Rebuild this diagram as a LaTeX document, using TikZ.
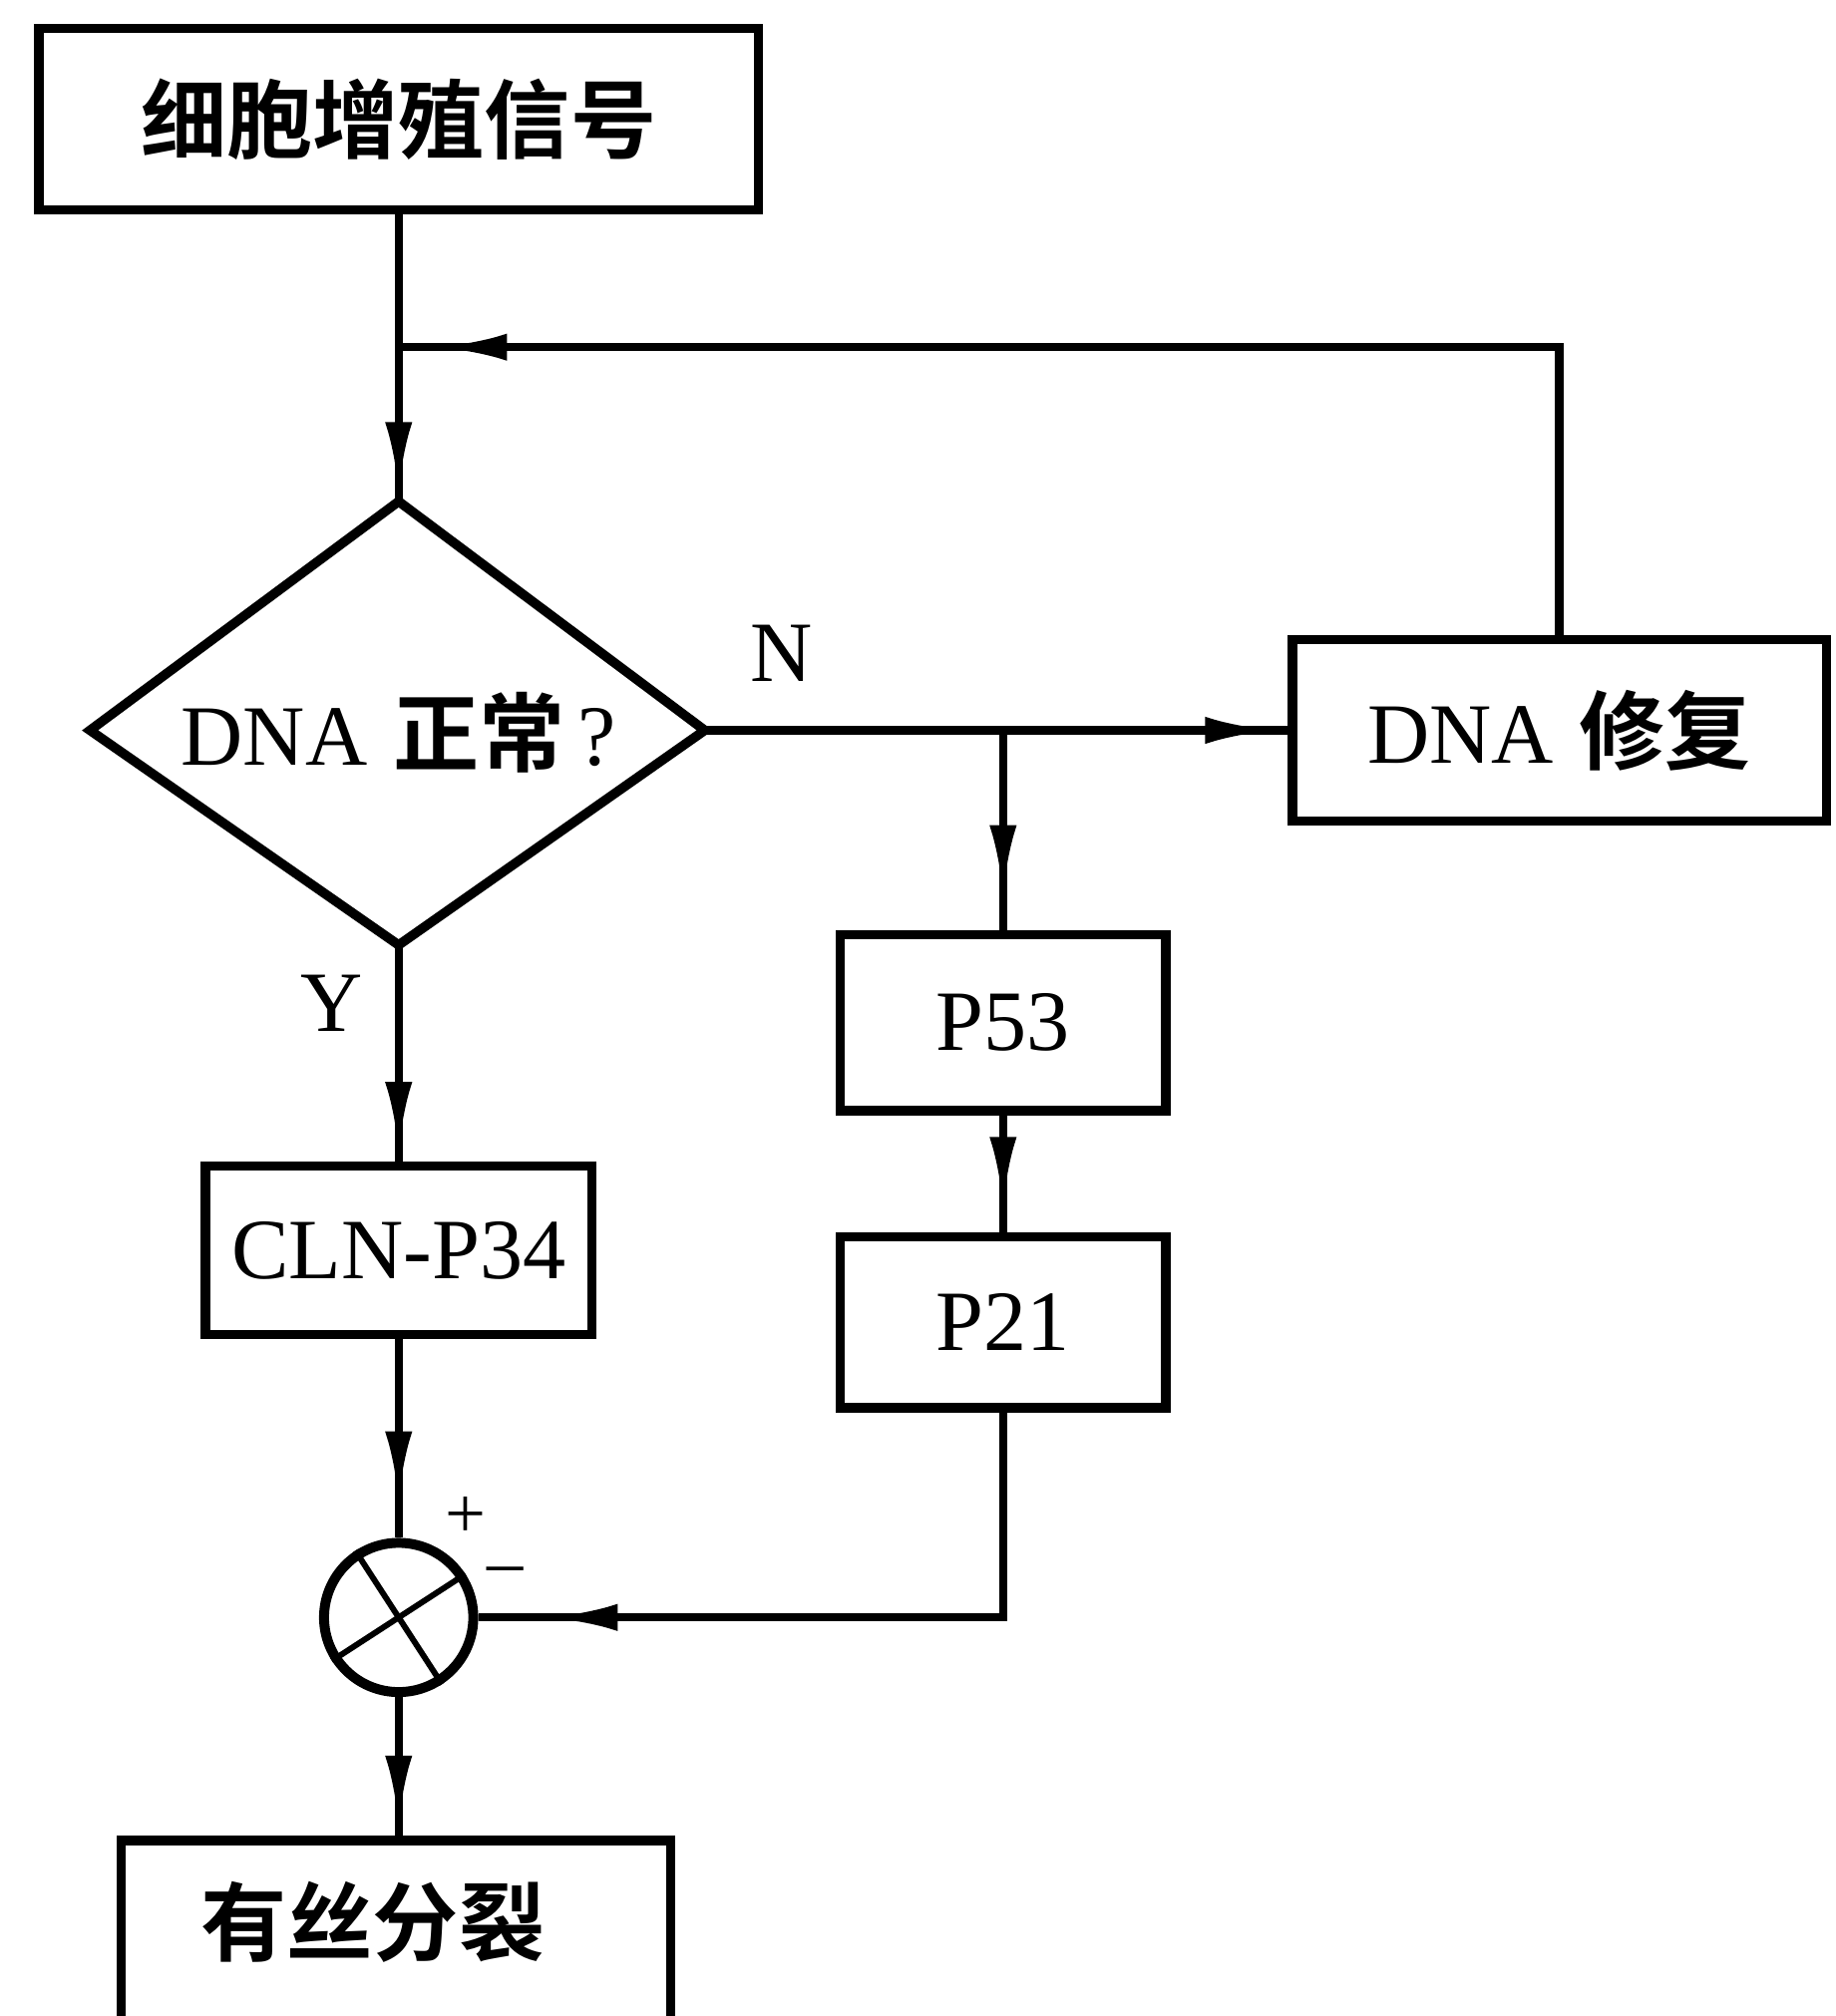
\documentclass[tikz,border=0pt]{standalone}
\usepackage{fontspec}
\setmainfont{Liberation Serif}
\newfontfamily\cjk{Noto Sans CJK SC}[BoldFont={Noto Sans CJK SC Bold}]
\usetikzlibrary{arrows.meta,decorations.markings}
\begin{document}
\begin{tikzpicture}[x=0.01cm,y=-0.01cm,
  every node/.style={font=\fontsize{19}{22}\selectfont},
  box/.style={draw,line width=2.1pt,inner sep=0pt},
  link/.style={line width=1.8pt},
  >={Latex[length=0.55cm,width=0.21cm]},
  marrow/.style={postaction={decorate,decoration={markings,mark=at position #1 with {\arrow{>}}}}},
  lbl/.style={inner sep=0pt}]
\useasboundingbox (0,0) rectangle (1427,1568);
\clip (0,0) rectangle (1427,1568);
% boxes
\node[box,minimum width=5.59cm,minimum height=1.41cm] (top) at (310,92.5) {\cjk\bfseries 细胞增殖信号};
\node[box,minimum width=4.15cm,minimum height=1.41cm] (rep) at (1212.5,568) {DNA\hspace{0.3em}{\cjk\bfseries 修复}};
\node[box,minimum width=2.53cm,minimum height=1.37cm] (p53) at (780,795.5) {P53};
\node[box,minimum width=2.53cm,minimum height=1.33cm] (p21) at (780,1028.5) {P21};
\node[box,minimum width=3.00cm,minimum height=1.31cm] (cln) at (310,972.5) {CLN-P34};
\node[box,minimum width=4.27cm,minimum height=2.0cm,anchor=north] (mit) at (308,1428) {};
\node[lbl] (mittext) at (290,1495) {\cjk\bfseries 有丝分裂};
% diamond
\coordinate (dtop) at (310,390);
\coordinate (dleft) at (70,568);
\coordinate (dright) at (548,568);
\coordinate (dbottom) at (310,735);
\draw[line width=2.1pt,line join=miter] (dtop) -- (dright) -- (dbottom) -- (dleft) -- cycle;
\node[lbl] (dtext) at (310,570) {DNA\hspace{0.3em}{\cjk\bfseries 正常}\hspace{0.15em}?};
% summing junction
\node[draw,circle,line width=2.2pt,minimum size=1.16cm,inner sep=0pt] (sum) at (310,1258) {};
\draw[line width=1.3pt] (sum.33) -- (sum.213);
\draw[line width=1.3pt] (sum.123) -- (sum.303);
% junction coordinates
\coordinate (j) at (310,270);
\coordinate (b) at (780,568);
% connectors
\draw[link,marrow=0.97] (top.south) -- (dtop);
\draw[link,marrow=0.974] (rep.north) |- (j);
\draw[link,marrow=0.98] (dright) -- (rep.west);
\draw[link,marrow=0.83] (b) -- (p53.north);
\draw[link,marrow=0.79] (p53.south) -- (p21.north);
\draw[link,marrow=0.96] (dbottom) -- (cln.north);
\draw[link,marrow=0.82] (cln.south) -- (sum.north);
\draw[link,marrow=0.906] (p21.south) |- (sum.east);
\draw[link,marrow=0.93] (sum.south) -- (sum.south |- mit.north);
% labels
\node[lbl] (nlabel) at (608,508) {N};
\node[lbl] (ylabel) at (258,780) {Y};
\node[lbl,font=\fontsize{16}{18}\selectfont] (plus) at (362,1180) {+};
\node[lbl,font=\fontsize{16}{18}\selectfont] (minus) at (393,1226) {\textendash};
\end{tikzpicture}
\end{document}
